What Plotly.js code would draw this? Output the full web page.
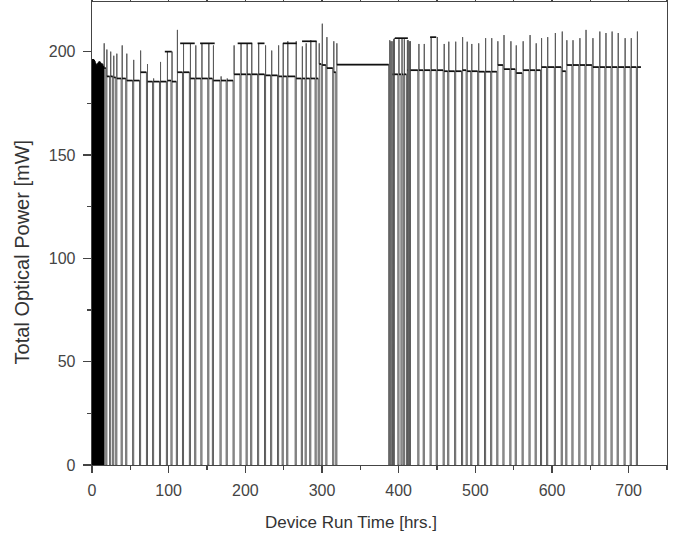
<!DOCTYPE html>
<html>
<head>
<meta charset="utf-8">
<script src="https://cdn.plot.ly/plotly-3.0.1.min.js"></script>
<style>html,body{margin:0;padding:0;background:#fff;}#chart{width:700px;height:536px;}</style>
</head>
<body>
<div id="chart"></div>
<script>
// ---- data ----
const startPower = 196;      // mW at t = 0
const endTime = 716;         // hrs, last logged point
const endPower = 192.5;
const burnInCount = 14;      // number of rapid on/off cycles at the start (t < 15 hrs)

// times (hrs) at which the device was switched off (power drops to 0)
const dropTimes = [
  0.5, 1.5, 2.5, 3.5, 4.5, 5.5, 6.5, 7.5, 8.5, 9.5, 10.5, 11.5, 12.5, 13.5,
  14.5, 18, 23, 27, 31, 38, 44, 53, 62, 71, 79, 88, 97, 103, 110, 118, 127, 134,
  142, 151, 157, 167, 175, 184, 193, 201, 207, 216, 225, 233, 242, 248, 254, 265,
  273, 278, 284, 291, 295, 299, 305, 314, 318,
  387, 388.5, 390, 392, 393, 399, 403, 406, 410, 411, 412.5, 414, 425, 432, 441,
  449, 458, 464, 473, 482, 488, 494, 503, 512, 520, 528, 536, 545, 552, 561, 570,
  578, 585, 593, 603, 612, 618, 626, 635, 643, 652, 661, 669, 677, 685, 694, 702, 710
];
// overshoot peak (mW) reached on restart after each drop
const peakPower = [
  196, 195.5, 195, 194, 193.5, 193.5, 194, 194.5, 195, 194.5, 194, 194, 193.5, 193,
  204, 201, 200, 198, 199, 203, 199, 196, 200.5, 194, 187, 195, 200, 200, 210.5, 204, 204, 203,
  204, 204, 203, 188, 187, 203, 204, 204, 204, 204, 203, 200.5, 203, 204, 205, 205,
  202.5, 204, 205.5, 205, 204, 213.5, 207, 205, 204,
  205.5, 205, 205, 206, 206.5, 206, 206.5, 206, 205.5, 205.5, 205, 205, 203.7, 203.7, 207,
  207, 203.7, 204.8, 204.8, 207, 204.8, 203.7, 204, 206.5, 206.5, 205, 208, 205, 203, 205, 208,
  204, 206.5, 207, 209, 209.7, 205.5, 205.5, 206.5, 210.5, 206.5, 209.7, 209, 209.7, 209, 206.5, 206.5, 209.7
];
// steady power level (mW) held after each restart until the next drop
const levelPower = [
  196, 195.5, 195, 194, 193.5, 193.5, 194, 194.5, 195, 194.5, 194, 194, 193.5, 193,
  192, 188, 188, 187.5, 187, 187, 186, 186, 190, 185.5, 185.5, 185.5, 186, 185.5, 190, 190, 187, 187,
  187, 187, 186, 186, 186, 189, 189, 189, 189, 189, 188.5, 188.5, 188, 188, 188, 187,
  187, 187, 187, 187, 194, 193.5, 192, 190, 193.7,
  189, 189, 189, 189, 189, 189, 189, 189, 191, 191, 191, 191, 191, 191, 191,
  191, 190.5, 190.5, 190.5, 191, 190.5, 190.5, 190.3, 190.3, 190.3, 193.5, 191.5, 191.5, 189.6, 191, 191,
  191, 192.5, 192.5, 192.5, 190.5, 193.5, 193.5, 193.5, 193.5, 192.5, 192.5, 192.5, 192.5, 192.5, 192.5, 192.5, 192.5
];
// short plateaus at the higher power level
const plateauStart = [95, 115, 141, 190, 216, 249, 274, 395, 441];
const plateauEnd   = [104, 134, 160, 209, 225, 267, 293, 412, 449];
const plateauPower = [200, 204, 204, 204, 204, 204, 205, 206.5, 207];

const xTickVals = [0, 100, 200, 300, 400, 500, 600, 700];
const yTickVals = [0, 50, 100, 150, 200];

// ---- build traces ----
const W = 1.4; // restart offset in hrs so down/up strokes form a double bar
function cycleTrace(i0, i1, startY) {
  const x = [], y = [];
  let prev = startY;
  for (let i = i0; i < i1; i++) {
    const t = dropTimes[i];
    x.push(t, t, t + W, t + W, t + W);
    y.push(prev, 0, 0, peakPower[i], levelPower[i]);
    prev = levelPower[i];
  }
  return {x, y};
}
const dense = cycleTrace(0, burnInCount, startPower);
dense.x.unshift(0); dense.y.unshift(startPower);
const rest = cycleTrace(burnInCount, dropTimes.length, levelPower[burnInCount - 1]);
rest.x.push(endTime); rest.y.push(endPower);

const bx = [0, dropTimes[0], null], by = [startPower, startPower, null];
for (let i = 0; i < dropTimes.length; i++) {
  const t1 = dropTimes[i] + W;
  const t2 = i + 1 < dropTimes.length ? dropTimes[i + 1] : endTime;
  bx.push(t1, t2, null);
  by.push(levelPower[i], i + 1 < dropTimes.length ? levelPower[i] : endPower, null);
}
const px = [], py = [];
for (let i = 0; i < plateauStart.length; i++) {
  px.push(plateauStart[i], plateauEnd[i], null);
  py.push(plateauPower[i], plateauPower[i], null);
}

const traces = [
  {x: rest.x, y: rest.y, mode: 'lines', line: {color: '#5a5a5a', width: 1.0}, hoverinfo: 'skip'},
  {x: dense.x, y: dense.y, mode: 'lines', line: {color: '#000', width: 1.6}, hoverinfo: 'skip'},
  {x: bx, y: by, mode: 'lines', line: {color: '#111', width: 1.7}, connectgaps: false, hoverinfo: 'skip'},
  {x: px, y: py, mode: 'lines', line: {color: '#111', width: 1.7}, connectgaps: false, hoverinfo: 'skip'}
];

const axisFont = {family: 'Liberation Sans, Arial, sans-serif', size: 16, color: '#444'};
const layout = {
  width: 700, height: 536,
  margin: {l: 92, r: 33, t: 2, b: 71},
  showlegend: false,
  paper_bgcolor: '#fff', plot_bgcolor: '#fff',
  xaxis: {
    range: [0, 750], tickvals: xTickVals, ticks: 'outside', ticklen: 7, tickwidth: 1.3,
    tickcolor: '#444', showline: true, linecolor: '#444', linewidth: 1.3, mirror: 'ticks',
    showgrid: false, zeroline: false, tickfont: axisFont, ticklabelstandoff: 3,
    minor: {dtick: 50, ticks: 'outside', ticklen: 4, tickcolor: '#444', tickwidth: 1.3, showgrid: false}
  },
  yaxis: {
    range: [0, 224], tickvals: yTickVals, ticks: 'outside', ticklen: 8, tickwidth: 1.3,
    tickcolor: '#444', showline: true, linecolor: '#444', linewidth: 1.3, mirror: true,
    showgrid: false, zeroline: false, tickfont: axisFont, ticklabelstandoff: 4,
    minor: {dtick: 25, ticks: 'outside', ticklen: 4, tickcolor: '#444', tickwidth: 1.3, showgrid: false}
  },
  annotations: [
    {text: 'Device Run Time [hrs.]', xref: 'paper', yref: 'paper', x: 0.45, y: -0.1,
     xanchor: 'center', yanchor: 'top', showarrow: false,
     font: {family: 'Liberation Sans, Arial, sans-serif', size: 17, color: '#333'}},
    {text: 'Total Optical Power [mW]', xref: 'paper', yref: 'paper', x: -0.122, y: 0.461,
     xanchor: 'center', yanchor: 'middle', textangle: -90, showarrow: false,
     font: {family: 'Liberation Sans, Arial, sans-serif', size: 20, color: '#333'}}
  ]
};
Plotly.newPlot('chart', traces, layout, {displayModeBar: false, staticPlot: true});
</script>
</body>
</html>
